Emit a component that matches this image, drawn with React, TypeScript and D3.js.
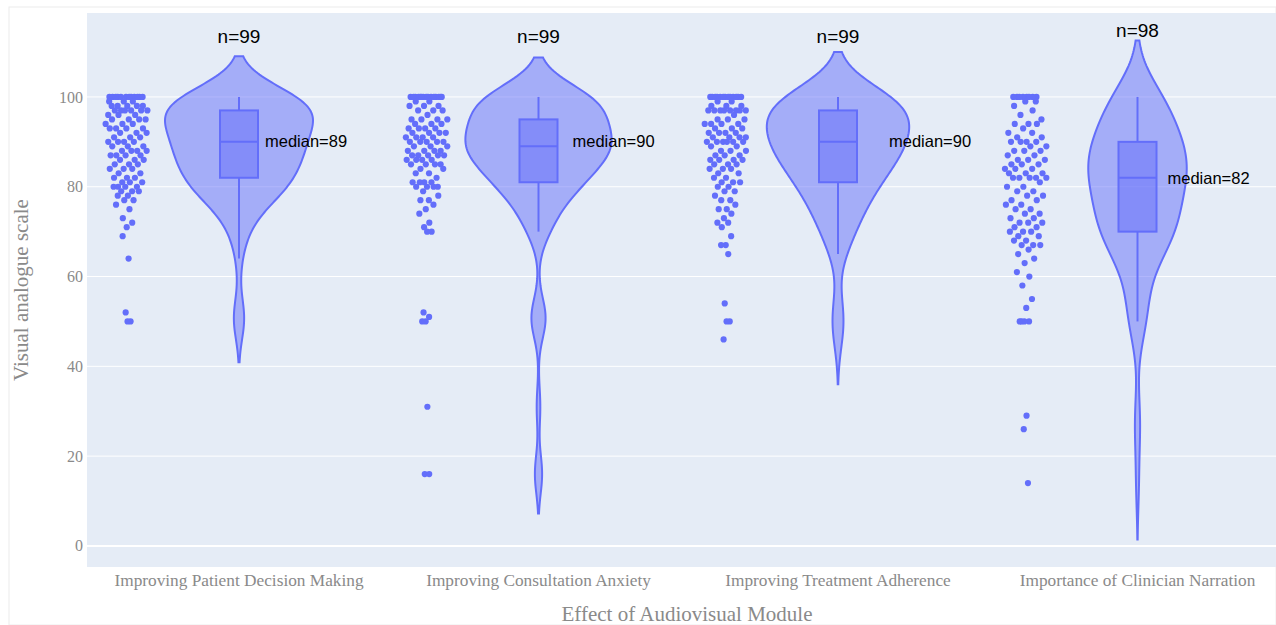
import React from 'react';
import * as d3 from 'd3';

const categories = [
  'Improving Patient Decision Making',
  'Improving Consultation Anxiety',
  'Improving Treatment Adherence',
  'Importance of Clinician Narration',
];

const decisionMaking = [
  100, 100, 100, 100, 100, 100, 100, 100, 100, 100, 100, 100, 99, 99, 99, 98, 98, 98, 98, 98,
  97, 97, 97, 97, 97, 97, 96, 96, 96, 95, 95, 95, 95, 94, 94, 94, 93, 93, 93, 93,
  92, 92, 92, 91, 91, 91, 90, 90, 90, 90, 89, 89, 89, 88, 88, 88, 88, 87, 87, 87,
  87, 86, 86, 86, 85, 85, 85, 84, 84, 84, 83, 83, 82, 82, 82, 81, 81, 81, 80, 80,
  80, 80, 79, 79, 79, 78, 78, 77, 77, 76, 75, 73, 72, 71, 69, 64, 52, 50, 50,
];

const consultationAnxiety = [
  100, 100, 100, 100, 100, 100, 100, 100, 100, 100, 100, 100, 100, 100, 100, 99, 99, 98, 98, 98,
  97, 97, 97, 96, 95, 95, 95, 95, 94, 94, 94, 93, 93, 93, 93, 92, 92, 92, 92, 91,
  91, 91, 91, 90, 90, 90, 90, 90, 89, 89, 89, 88, 88, 88, 88, 87, 87, 87, 87, 87,
  86, 86, 86, 86, 85, 85, 85, 85, 84, 84, 83, 83, 82, 81, 81, 81, 81, 80, 80, 80,
  80, 79, 78, 77, 77, 76, 75, 74, 72, 71, 70, 70, 52, 51, 50, 50, 31, 16, 16,
];

const treatmentAdherence = [
  100, 100, 100, 100, 100, 100, 100, 100, 100, 100, 100, 100, 100, 99, 99, 98, 98, 98, 97, 97,
  97, 97, 97, 97, 97, 97, 96, 95, 95, 95, 94, 94, 94, 94, 93, 93, 93, 92, 92, 92,
  92, 91, 91, 91, 91, 90, 90, 90, 90, 90, 90, 89, 89, 88, 88, 88, 87, 87, 87, 86,
  86, 86, 86, 85, 85, 85, 84, 84, 84, 83, 83, 82, 82, 81, 81, 81, 80, 80, 79, 79,
  78, 77, 77, 76, 75, 75, 74, 73, 72, 72, 71, 69, 67, 67, 65, 54, 50, 50, 46,
];

const clinicianNarration = [
  100, 100, 100, 100, 100, 100, 100, 100, 99, 99, 98, 97, 96, 95, 94, 94, 94, 93, 92, 92,
  91, 91, 90, 90, 90, 90, 89, 89, 88, 88, 88, 87, 87, 86, 86, 86, 85, 85, 85, 84,
  84, 84, 83, 83, 83, 82, 82, 82, 82, 82, 81, 80, 80, 79, 79, 78, 78, 77, 77, 76,
  76, 75, 75, 74, 74, 73, 73, 72, 72, 72, 71, 71, 70, 70, 70, 69, 69, 68, 68, 67,
  67, 67, 66, 65, 64, 63, 61, 60, 58, 55, 53, 50, 50, 50, 50, 29, 26, 14,
];

const seriesValues = [decisionMaking, consultationAnxiety, treatmentAdherence, clinicianNarration];
const countLabels = ['n=99', 'n=99', 'n=99', 'n=98'];
const countLabelValues = [113.6, 113.6, 113.6, 114.9];
const medianLabels = ['median=89', 'median=90', 'median=90', 'median=82'];
const medianLabelValues = [90.2, 90.2, 90.2, 82.0];
const medianLabelShift = [26, 34, 51, 30];
const yTicks = [0, 20, 40, 60, 80, 100];

const W = 1276;
const H = 625;
const P = { left: 87, right: 1276, top: 13, bottom: 567 };
const COLOR = '#636efa';
const FILL = 'rgba(99,110,250,0.5)';
const MAX_HALF = 74;
const BOX_HALF = 19;
const PT_OFFSET = -112;
const JITTER_HALF = 22;
const SERIF = "'Liberation Serif', 'Times New Roman', serif";
const SANS = "'Liberation Sans', Arial, sans-serif";
const AXIS_TEXT = '#8a8a8a';

function silverman(vals: number[]) {
  const n = vals.length;
  const sd = d3.deviation(vals) as number;
  const s = vals.slice().sort(d3.ascending);
  const iqr = (d3.quantileSorted(s, 0.75) as number) - (d3.quantileSorted(s, 0.25) as number);
  return 1.059 * Math.min(sd, iqr / 1.349) * Math.pow(n, -0.2);
}

function kdeCount(vals: number[], bw: number, x: number) {
  let s = 0;
  for (const v of vals) {
    const u = (x - v) / bw;
    s += Math.exp(-0.5 * u * u);
  }
  return s / (bw * Math.sqrt(2 * Math.PI));
}

export default function App() {
  const y = d3.scaleLinear().domain([-4.7, 118.7]).range([P.bottom, P.top]);
  const x = d3.scalePoint<string>().domain(categories).range([239, 1137.5]);

  const stats = seriesValues.map((vals) => {
    const s = vals.slice().sort(d3.ascending);
    const bw = silverman(vals);
    const lo = s[0] - 2 * bw;
    const hi = s[s.length - 1] + 2 * bw;
    const steps = 200;
    const grid = d3.range(steps + 1).map((i) => lo + ((hi - lo) * i) / steps);
    const dens = grid.map((g) => ({ v: g, d: kdeCount(vals, bw, g) }));
    const q1 = d3.quantileSorted(s, 0.25) as number;
    const q3 = d3.quantileSorted(s, 0.75) as number;
    const med = d3.quantileSorted(s, 0.5) as number;
    const iqr = q3 - q1;
    const lowW = s.find((v) => v >= q1 - 1.5 * iqr) as number;
    const highW = [...s].reverse().find((v) => v <= q3 + 1.5 * iqr) as number;
    return { s, bw, dens, q1, q3, med, lowW, highW };
  });

  const maxD = d3.max(stats, (st) => d3.max(st.dens, (d) => d.d)) as number;
  const wScale = d3.scaleLinear().domain([0, maxD]).range([0, MAX_HALF]);

  return (
    <svg width={W} height={H} style={{ position: 'absolute', left: 0, top: 0, background: '#fff' }}>
      <rect x={9} y={7} width={W - 9} height={H - 7} fill="none" stroke="#ececec" strokeWidth={1} />
      <rect x={P.left} y={P.top} width={P.right - P.left} height={P.bottom - P.top} fill="#e5ecf6" />
      {yTicks.map((t) => (
        <line key={'g' + t} x1={P.left} x2={P.right} y1={y(t)} y2={y(t)} stroke="#fff" strokeWidth={t === 0 ? 2 : 1} />
      ))}
      {yTicks.map((t) => (
        <text key={'t' + t} x={P.left - 4} y={y(t)} dy="0.35em" textAnchor="end"
          fontFamily={SERIF} fontSize={16} fill={AXIS_TEXT}>{t}</text>
      ))}
      {categories.map((c, i) => {
        const cx = x(c) as number;
        const st = stats[i];
        const localMax = d3.max(st.dens, (d) => d.d) as number;
        const area = d3.area<{ v: number; d: number }>()
          .y((d) => y(d.v))
          .x0((d) => cx - wScale(d.d))
          .x1((d) => cx + wScale(d.d))
          .curve(d3.curveLinear);
        const pts = seriesValues[i].map((v, j) => {
          const u = (j * 0.6180339887 + 0.31 * i) % 1;
          const f = 0.12 + 0.88 * (kdeCount(seriesValues[i], st.bw, v) / localMax);
          return { v, px: cx + PT_OFFSET + (u * 2 - 1) * JITTER_HALF * f };
        });
        return (
          <g key={c}>
            <path d={area(st.dens) as string} fill={FILL} stroke={COLOR} strokeWidth={2} />
            <line x1={cx} x2={cx} y1={y(st.highW)} y2={y(st.q3)} stroke={COLOR} strokeWidth={2} />
            <line x1={cx} x2={cx} y1={y(st.q1)} y2={y(st.lowW)} stroke={COLOR} strokeWidth={2} />
            <rect x={cx - BOX_HALF} y={y(st.q3)} width={BOX_HALF * 2} height={y(st.q1) - y(st.q3)}
              fill={FILL} stroke={COLOR} strokeWidth={2} />
            <line x1={cx - BOX_HALF} x2={cx + BOX_HALF} y1={y(st.med)} y2={y(st.med)} stroke={COLOR} strokeWidth={2} />
            {pts.map((p, j) => (
              <circle key={j} cx={p.px} cy={y(p.v)} r={3.1} fill={COLOR} />
            ))}
            <text x={cx} y={y(countLabelValues[i])} dy="0.35em" textAnchor="middle"
              fontFamily={SANS} fontSize={19} fill="#000">{countLabels[i]}</text>
            <text x={cx + medianLabelShift[i]} y={y(medianLabelValues[i])} dy="0.35em" textAnchor="start"
              fontFamily={SANS} fontSize={16.5} fill="#000">{medianLabels[i]}</text>
            <text x={cx} y={580} dy="0.35em" textAnchor="middle"
              fontFamily={SERIF} fontSize={17.3} fill={AXIS_TEXT}>{c}</text>
          </g>
        );
      })}
      <text x={687} y={614} dy="0.35em" textAnchor="middle"
        fontFamily={SERIF} fontSize={21} fill={AXIS_TEXT}>Effect of Audiovisual Module</text>
      <text transform={`translate(21,${290}) rotate(-90)`} dy="0.35em" textAnchor="middle"
        fontFamily={SERIF} fontSize={21} fill={AXIS_TEXT}>Visual analogue scale</text>
    </svg>
  );
}
